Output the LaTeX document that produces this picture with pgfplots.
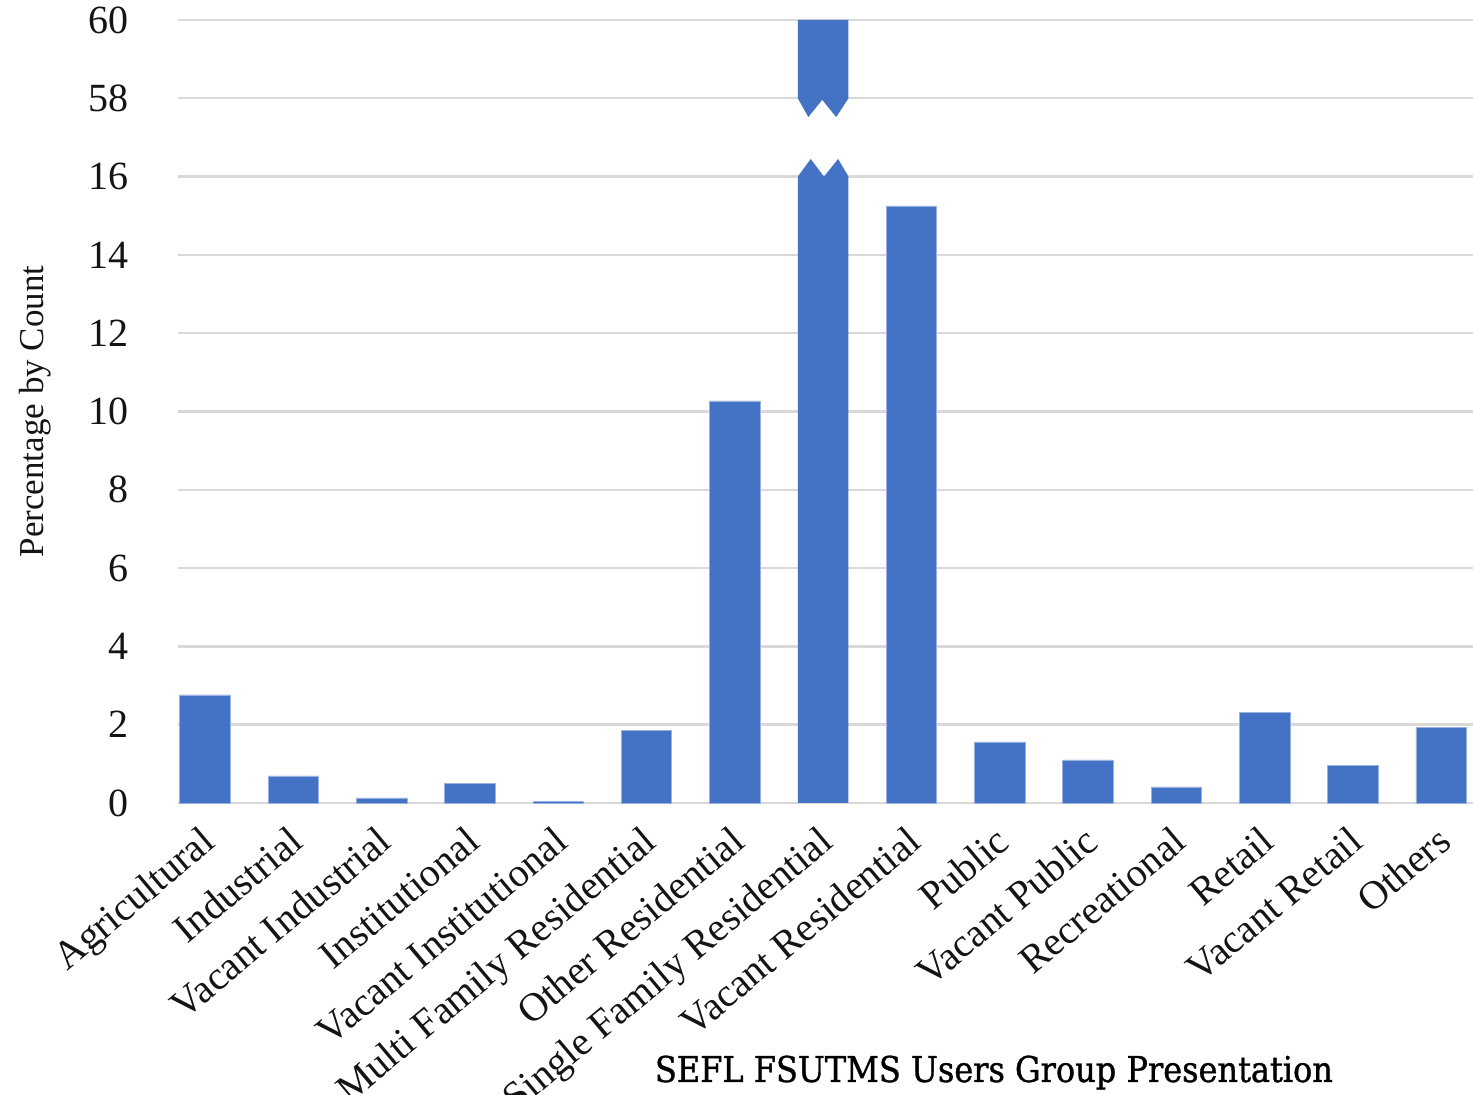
\documentclass[border=0pt]{standalone}
\usepackage{pgfplots}
\pgfplotsset{compat=1.18}
\usepackage{fontspec}
\setmainfont{Liberation Serif}
\newfontfamily\footfont[FakeBold=1]{DejaVu Serif Condensed}
\usepackage{graphicx}
\definecolor{barblue}{HTML}{4472C4}
\definecolor{gridgray}{HTML}{D9D9D9}
\begin{document}
\begin{tikzpicture}[x=1pt,y=1pt]
\useasboundingbox (0,0) rectangle (736.5,547.5);
\begin{axis}[
  at={(89pt,146pt)}, anchor=south west,
  scale only axis, width=647.5pt, height=391.5pt,
  xmin=-0.306, xmax=14.36,
  ymin=0, ymax=20,
  axis line style={draw=none},
  major tick length=0pt,
  ymajorgrids,
  major grid style={draw=gridgray, line width=1.2pt},
  ytick={0,2,4,6,8,10,12,14,16,18,20},
  yticklabels={0,2,4,6,8,10,12,14,16,58,60},
  xtick={0,...,14},
  xticklabels={Agricultural,Industrial,Vacant Industrial,Institutional,Vacant Institutional,Multi Family Residential,Other Residential,Single Family Residential,Vacant Residential,Public,Vacant Public,Recreational,Retail,Vacant Retail,Others},
  tick label style={font=\fontsize{20}{24}\selectfont, text=black!92},
  yticklabel style={xshift=-21pt},
  xticklabel style={xshift=-3pt, yshift=-10.5pt, rotate=40, anchor=north east, inner sep=0pt},
  ylabel={Percentage by Count},
  every axis y label/.style={at={(axis description cs:-0.1104,0.5)}, rotate=90, anchor=center,
    font=\fontsize{17.5}{21}\selectfont, text=black!92},
  clip=false,
]
% ordinary bars
\addplot[ybar, bar width=25.3pt, fill=barblue, draw=barblue!55!white, line width=0.4pt]
  coordinates {(0,2.76) (1,0.69) (2,0.13) (3,0.49) (4,0.05) (5,1.86) (6,10.27)
               (8,15.25) (9,1.56) (10,1.10) (11,0.41) (12,2.32) (13,0.95) (14,1.92)};
% Single Family Residential (about 60): broken bar, lower and upper pieces
\addplot[fill=barblue, draw=none]
  coordinates {(6.713,0) (6.713,16) (6.86,16.45) (7.01,16) (7.17,16.45) (7.287,16) (7.287,0) (6.713,0)};
\addplot[fill=barblue, draw=none]
  coordinates {(6.713,20) (6.713,18) (6.833,17.52) (6.99,17.96) (7.148,17.52) (7.287,18) (7.287,20) (6.713,20)};
\end{axis}
\node[anchor=base] at (497,6.5) {\resizebox{339pt}{!}{\footfont SEFL FSUTMS Users Group Presentation}};
\end{tikzpicture}
\end{document}
